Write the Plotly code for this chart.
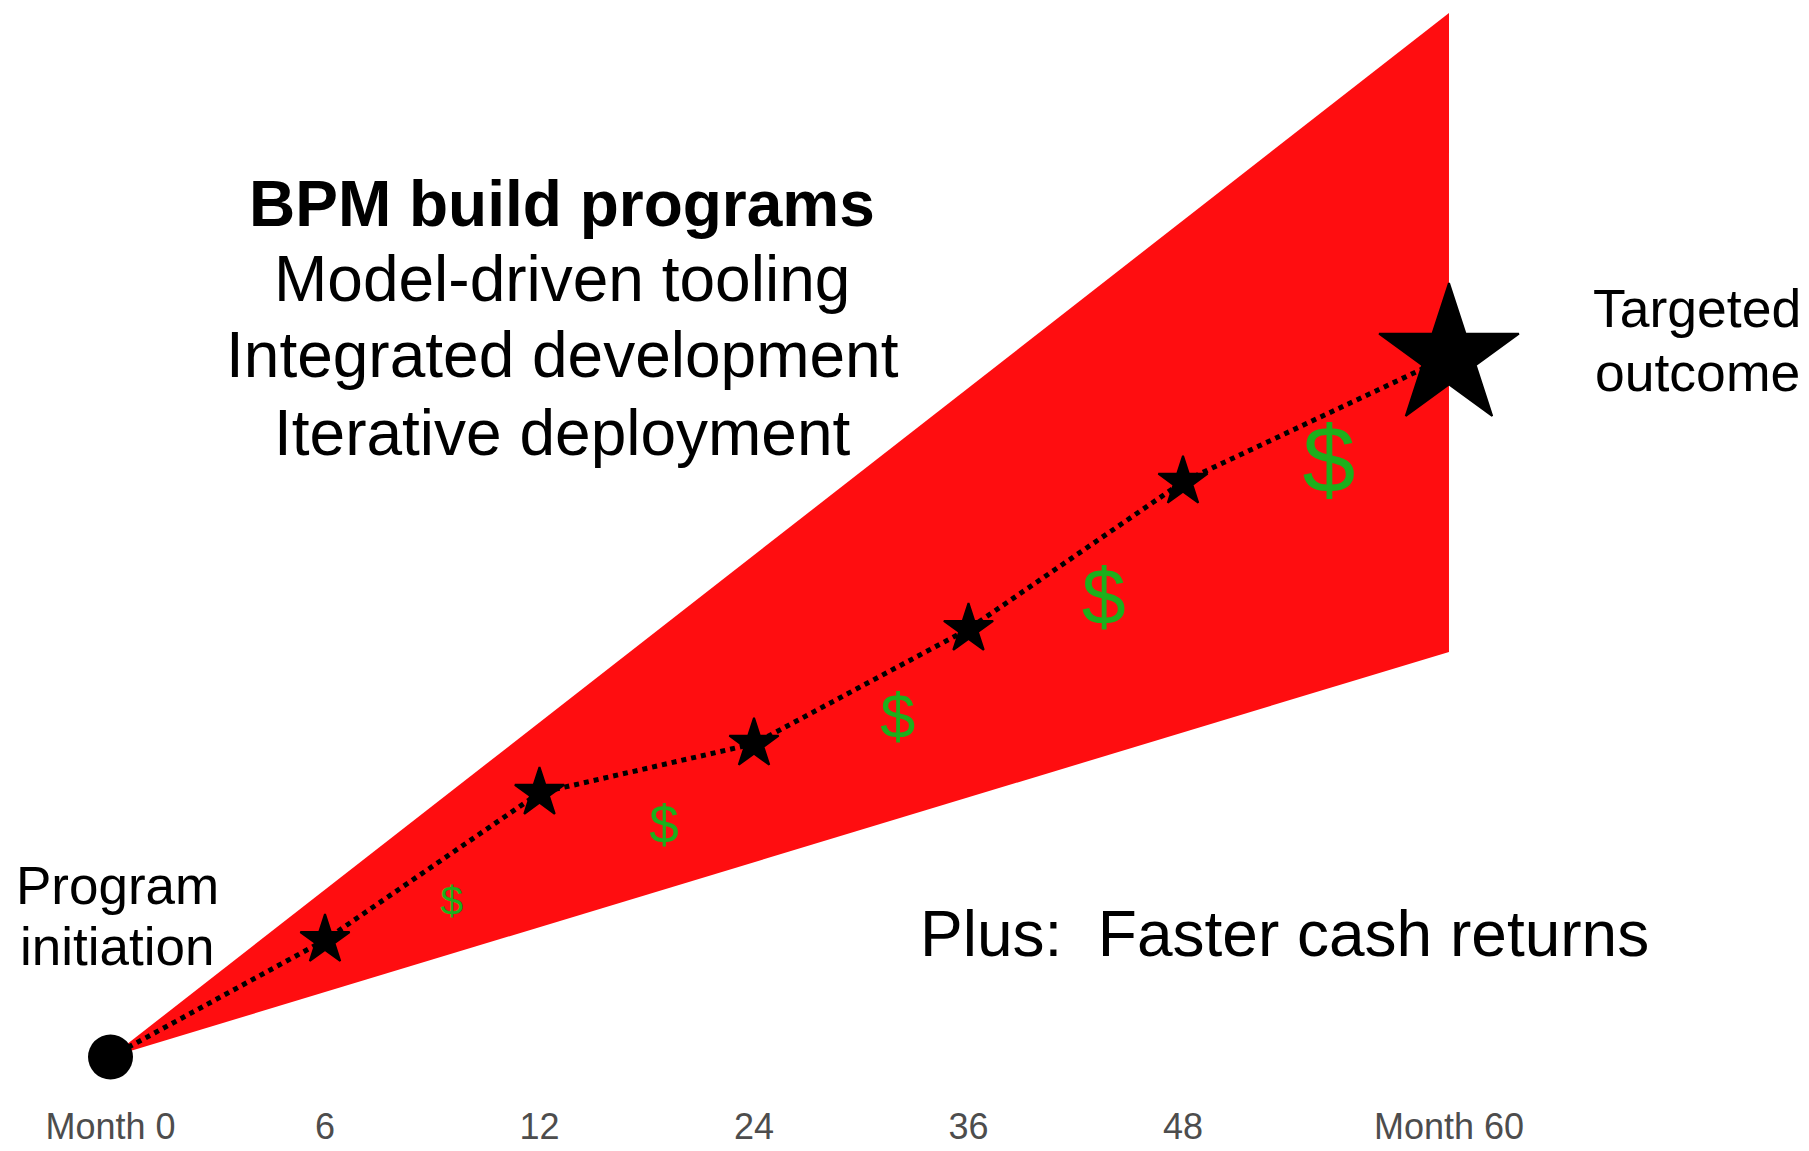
import plotly.graph_objects as go

# ---------------- data ----------------
month_labels = ["Month 0", "6", "12", "24", "36", "48", "Month 60"]
month_pos = [0, 1, 2, 3, 4, 5, 6.24]
progress = [0, 11.2, 25.3, 30.0, 41.0, 55.1, 67.1]

cone_x = [0, 6.24, 6.24, 0]
cone_y = [0, 100, 38.8, 0]

dollar_x = [1.59, 2.58, 3.67, 4.63, 5.68]
dollar_y = [14.6, 21.8, 32.1, 43.4, 56.4]
dollar_text = ["$", "$", "$", "$", "$"]

# ---------------- style ----------------
W, H = 1809, 1151
MB = 49
PH = H - MB
FONT = "Liberation Sans, Arial, Helvetica, sans-serif"
RED = "#FF0D10"
GREEN = "#1CAF1C"
dollar_sizes = [41, 53, 63, 79, 95]
star_sizes = [37, 37, 37, 37, 37, 105]

fig = go.Figure()

fig.add_trace(go.Scatter(
    x=cone_x, y=cone_y, mode="lines", fill="toself",
    fillcolor=RED, line=dict(width=0, color=RED), hoverinfo="skip",
))

fig.add_trace(go.Scatter(
    x=month_pos, y=progress, mode="lines",
    line=dict(color="black", width=5, dash="dot"), hoverinfo="skip",
))

fig.add_trace(go.Scatter(
    x=month_pos[:1], y=progress[:1], mode="markers",
    marker=dict(symbol="circle", size=45, color="black", opacity=1),
))

fig.add_trace(go.Scatter(
    x=month_pos[1:], y=progress[1:], mode="markers",
    marker=dict(symbol="star", size=star_sizes, color="black", opacity=1,
                line=dict(color="black", width=2)),
))

fig.add_trace(go.Scatter(
    x=dollar_x, y=dollar_y, mode="text", text=dollar_text,
    textposition="middle center",
    textfont=dict(size=dollar_sizes, color=GREEN, family=FONT),
))


def px(xp, yp):
    return xp / W, 1 - yp / PH


annots = [
    ("<b>BPM build programs</b>", 562, 204, 64),
    ("Model-driven tooling", 562, 279, 64),
    ("Integrated development", 562, 355, 64),
    ("Iterative deployment", 562, 433, 64),
    ("Program", 117, 885, 53),
    ("initiation", 117, 946, 53),
    ("Targeted", 1697, 308, 53.5),
    ("outcome", 1697, 373, 53.5),
    ("Plus:\u00a0 Faster cash returns", 1284, 934, 64),
]
for txt, ax_, ay_, sz in annots:
    xp, yp = px(ax_, ay_)
    fig.add_annotation(
        x=xp, y=yp, xref="paper", yref="paper", text=txt, showarrow=False,
        xanchor="center", yanchor="middle",
        font=dict(size=sz, color="black", family=FONT),
    )

unit = 214.5
x0 = -110.5 / unit
x1 = x0 + W / unit
yunit = 10.44
y1 = 13 / yunit + 100
y0 = y1 - PH / yunit

fig.update_layout(
    width=W, height=H,
    margin=dict(l=0, r=0, t=0, b=MB, autoexpand=False),
    paper_bgcolor="white", plot_bgcolor="white",
    showlegend=False,
    xaxis=dict(range=[x0, x1], tickvals=month_pos, ticktext=month_labels,
               showgrid=False, zeroline=False, showline=False, ticks="",
               automargin=False,
               tickfont=dict(size=36, color="#4D4D4D", family=FONT),
               fixedrange=True),
    yaxis=dict(range=[y0, y1], visible=False, showgrid=False,
               automargin=False, zeroline=False, fixedrange=True),
)

fig.write_html("out.html", config={"displayModeBar": False},
               post_script="document.body.style.margin='0';")
